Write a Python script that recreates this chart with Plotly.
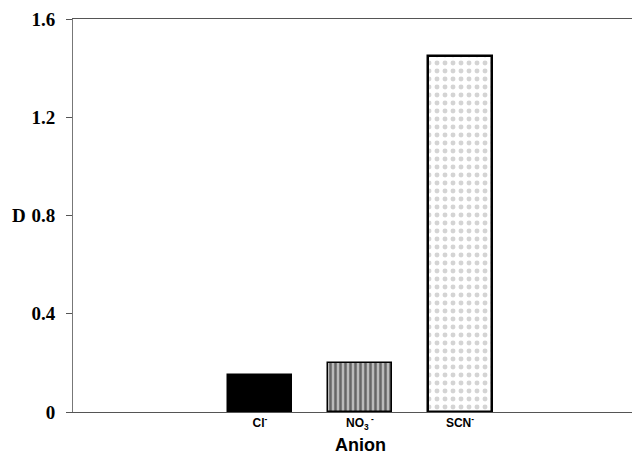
import plotly.graph_objects as go

categories = ["Cl<sup>-</sup>", "NO<sub>3</sub><sup> -</sup>", "SCN<sup>-</sup>"]
values = [0.15, 0.20, 1.45]
positions = [0, 1, 2]
ytick_vals = [0, 0.4, 0.8, 1.2, 1.6]
ytick_text = ["0", "0.4", "0.8", "1.2", "1.6"]

# page body has an 8px margin; compensate so the plot lands where the reference has it
W, H = 632, 446
ML, MT, MR, MB = 65, 11, 0, 42
PW, PH = W - ML - MR, H - MT - MB

fig = go.Figure()
fig.add_trace(go.Bar(
    x=[positions[0]], y=[values[0]], width=0.64,
    marker=dict(color="black", line=dict(color="black", width=1.5)),
))
fig.add_trace(go.Bar(
    x=[positions[1]], y=[values[1]], width=0.64,
    marker=dict(color="white", line=dict(color="black", width=1.5),
                pattern=dict(shape="|", fgcolor="#111", bgcolor="#bbb", size=5, solidity=0.5)),
))
fig.add_trace(go.Bar(
    x=[positions[2]], y=[values[2]], width=0.64,
    marker=dict(color="white", line=dict(color="black", width=2.5),
                pattern=dict(shape=".", fgcolor="#aaa", bgcolor="white", size=8, solidity=0.3)),
))

fig.update_layout(
    width=W, height=H,
    margin=dict(l=ML, r=MR, t=MT, b=MB, autoexpand=False),
    paper_bgcolor="white", plot_bgcolor="white",
    showlegend=False,
    bargap=0,
    xaxis=dict(
        range=[-1.87, 3.8], tickvals=positions, ticktext=categories,
        showgrid=False, zeroline=False, showline=True, mirror=True,
        linecolor="#555", linewidth=1, ticks="",
        tickfont=dict(family="Liberation Sans, Arial", size=12, color="black", weight="bold"),
    ),
    yaxis=dict(
        range=[0, 1.6], tickvals=ytick_vals, ticktext=ytick_text,
        showgrid=False, zeroline=False, showline=True, linecolor="#777", linewidth=1,
        ticks="outside", ticklen=6, tickcolor="#555", ticklabelstandoff=7,
        tickfont=dict(family="Liberation Serif, Times New Roman", size=19, color="black", weight="bold"),
    ),
    annotations=[
        dict(text="D", xref="paper", yref="y", x=(2 - ML) / PW, y=0.8, xanchor="left",
             yanchor="middle", showarrow=False,
             font=dict(family="Liberation Serif, Times New Roman", size=19, color="black", weight="bold")),
        dict(text="Anion", xref="x", yref="paper", x=1, y=-33 / PH, xanchor="center",
             yanchor="middle", showarrow=False,
             font=dict(family="Liberation Sans, Arial", size=18, color="black", weight="bold")),
    ],
)

fig.write_html("out.html")
